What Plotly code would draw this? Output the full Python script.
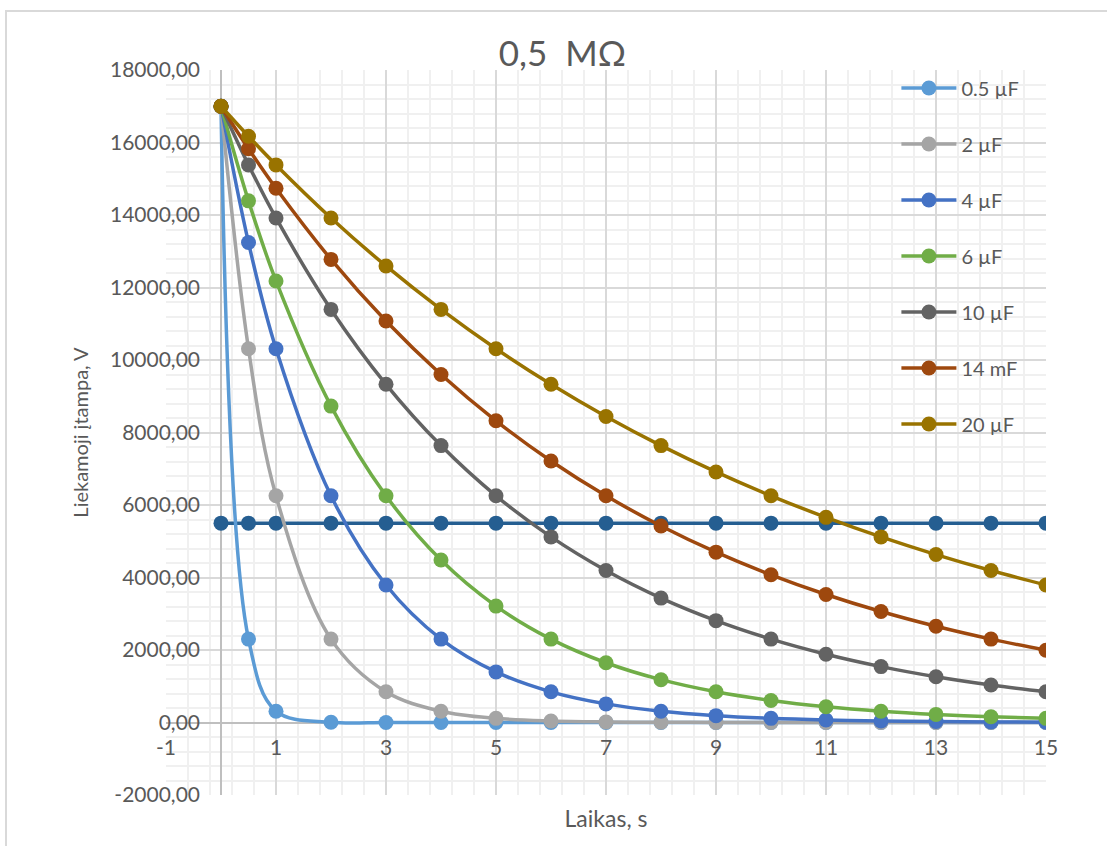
import plotly.graph_objects as go

# time points, s
t = [0, 0.5, 1, 2, 3, 4, 5, 6, 7, 8, 9, 10, 11, 12, 13, 14, 15]

v_05uF = [17000, 2300.7, 311.4, 5.7, 0.1, 0, 0, 0, 0, 0, 0, 0, 0, 0, 0, 0, 0]
v_2uF = [17000, 10311.0, 6253.9, 2300.7, 846.4, 311.4, 114.5, 42.1, 15.5, 5.7, 2.1, 0.8, 0.3, 0.1, 0, 0, 0]
v_4uF = [17000, 13239.6, 10311.0, 6253.9, 3793.2, 2300.7, 1395.4, 846.4, 513.4, 311.4, 188.9, 114.5, 69.5, 42.1, 25.6, 15.5, 9.4]
v_6uF = [17000, 14390.2, 12181.0, 8728.1, 6253.9, 4481.1, 3210.9, 2300.7, 1648.5, 1181.2, 846.4, 606.5, 434.5, 311.4, 223.1, 159.9, 114.5]
v_10uF = [17000, 15382.2, 13918.4, 11395.4, 9329.8, 7638.6, 6253.9, 5120.3, 4192.1, 3432.2, 2810.1, 2300.7, 1883.7, 1542.2, 1262.7, 1033.8, 846.4]
v_14mF = [17000, 15828.1, 14736.9, 12775.1, 11074.5, 9600.2, 8322.2, 7214.3, 6253.9, 5421.4, 4699.7, 4074.1, 3531.7, 3061.6, 2654.0, 2300.7, 1994.4]
v_20uF = [17000, 16170.9, 15382.2, 13918.4, 12593.9, 11395.4, 10311.0, 9329.8, 8442.0, 7638.6, 6911.7, 6253.9, 5658.8, 5120.3, 4633.0, 4192.1, 3793.2]
v_level = [5500] * len(t)

series_names = ["0.5 µF", "2 µF", "4 µF", "6 µF", "10 µF", "14 mF", "20 µF"]
series_values = [v_05uF, v_2uF, v_4uF, v_6uF, v_10uF, v_14mF, v_20uF]
series_colors = ["#5B9BD5", "#A5A5A5", "#4472C4", "#70AD47", "#636363", "#9E480E", "#997300"]

x_tickvals = [-1, 1, 3, 5, 7, 9, 11, 13, 15]
x_ticktext = ["-1", "1", "3", "5", "7", "9", "11", "13", "15"]
y_tickvals = [-2000, 0, 2000, 4000, 6000, 8000, 10000, 12000, 14000, 16000, 18000]
y_ticktext = ["-2000,00", "0,00", "2000,00", "4000,00", "6000,00", "8000,00",
              "10000,00", "12000,00", "14000,00", "16000,00", "18000,00"]

FONT = "Lato"
TXT = "#595959"

fig = go.Figure()

fig.add_trace(go.Scatter(
    x=t, y=v_level, mode="lines+markers", showlegend=False,
    line=dict(color="#255E91", width=3.5, shape="spline"),
    marker=dict(size=15, color="#255E91"),
))

for name, vals, col in zip(series_names, series_values, series_colors):
    fig.add_trace(go.Scatter(
        x=t, y=vals, mode="lines+markers", name=name, legendgroup=name,
        line=dict(color=col, width=3.5, shape="spline"),
        marker=dict(size=15, color=col),
    ))

fig.update_layout(
    width=1107, height=846,
    margin=dict(l=166, r=61, t=70, b=51, autoexpand=False),
    paper_bgcolor="white", plot_bgcolor="white",
    font=dict(family=FONT, color=TXT, size=20),
    title=dict(text="0,5  MΩ", x=0.508, xref="container", xanchor="center",
               y=0.937, yref="container", yanchor="middle",
               font=dict(family=FONT, size=35, color=TXT)),
    legend=dict(x=0.83, xanchor="left", y=1.002, yanchor="top",
                bgcolor="rgba(0,0,0,0)", font=dict(size=20, color=TXT),
                tracegroupgap=27, itemwidth=55),
    shapes=[dict(type="rect", xref="paper", yref="paper",
                 x0=-0.1818, x1=1.08, y0=-0.08, y1=1.0814,
                 line=dict(color="#d9d9d9", width=2), layer="below")],
)

fig.update_xaxes(
    range=[-1, 15], tickmode="array", tickvals=x_tickvals, ticktext=x_ticktext,
    automargin=False,
    showgrid=True, gridcolor="#d9d9d9", gridwidth=1.5,
    minor=dict(tick0=-1, dtick=0.4, showgrid=True, gridcolor="#f0f0f0", gridwidth=1.5),
    zeroline=True, zerolinecolor="#bfbfbf", zerolinewidth=2,
    showline=False, ticks="", tickfont=dict(size=21, color=TXT),
    ticklabelstandoff=-62,
    title=dict(text="Laikas, s", font=dict(size=23, color=TXT), standoff=52),
)
fig.update_yaxes(
    range=[-2000, 18000], tickmode="array", tickvals=y_tickvals, ticktext=y_ticktext,
    automargin=False,
    showgrid=True, gridcolor="#d9d9d9", gridwidth=1.5,
    minor=dict(tick0=-2000, dtick=400, showgrid=True, gridcolor="#f0f0f0", gridwidth=1.5),
    zeroline=True, zerolinecolor="#bfbfbf", zerolinewidth=2,
    showline=False, ticks="",
    tickfont=dict(size=21, color=TXT), ticklabelstandoff=-35,
    title=dict(text="Liekamoji įtampa, V", font=dict(size=20, color=TXT), standoff=15),
)

fig.write_html("out.html")
